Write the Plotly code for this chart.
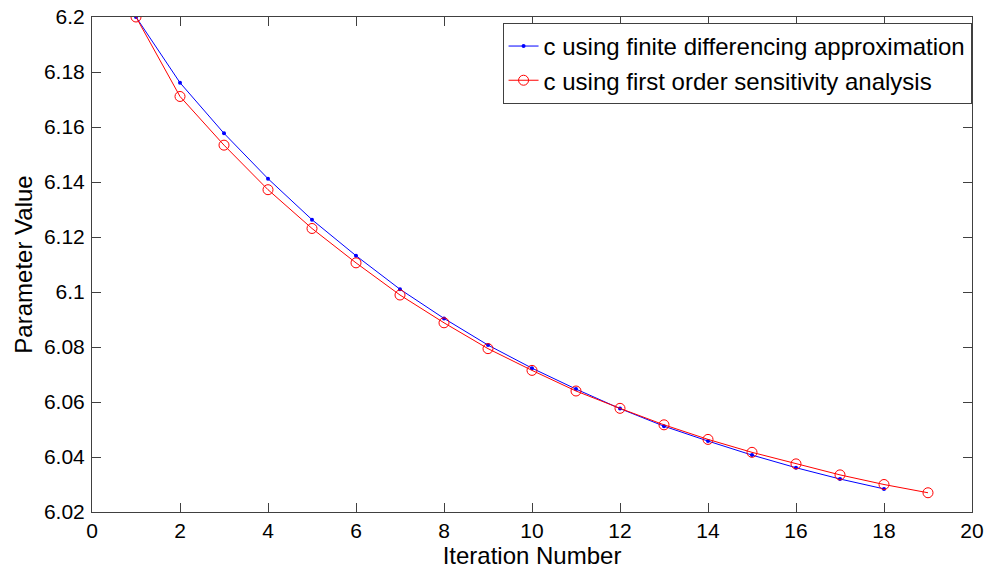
import plotly.graph_objects as go

iters_fd = list(range(1, 19))
c_fd = [6.2, 6.1761, 6.1577, 6.1412, 6.1263, 6.1132, 6.1010, 6.0904, 6.0807, 6.0723,
        6.0647, 6.0576, 6.0512, 6.0458, 6.0407, 6.0361, 6.0320, 6.0284]
iters_sa = list(range(1, 20))
c_sa = [6.2, 6.1711, 6.1534, 6.1372, 6.1231, 6.1106, 6.0989, 6.0888, 6.0794, 6.0715,
        6.0640, 6.0577, 6.0517, 6.0464, 6.0417, 6.0375, 6.0335, 6.0300, 6.0270]

xticks = list(range(0, 21, 2))
yticks = [6.02, 6.04, 6.06, 6.08, 6.1, 6.12, 6.14, 6.16, 6.18, 6.2]
yticktext = ["6.02", "6.04", "6.06", "6.08", "6.1", "6.12", "6.14", "6.16", "6.18", "6.2"]

FONT = "Liberation Sans, Arial, sans-serif"

fig = go.Figure()
fig.add_trace(go.Scatter(
    x=iters_fd, y=c_fd, mode="lines+markers",
    name="c using finite differencing approximation",
    line=dict(color="#0000ff", width=1),
    marker=dict(color="#0000ff", size=4, symbol="circle"),
))
fig.add_trace(go.Scatter(
    x=iters_sa, y=c_sa, mode="lines+markers",
    name="c using first order sensitivity analysis",
    line=dict(color="#ff0000", width=1),
    marker=dict(color="#ff0000", size=10, symbol="circle-open", line=dict(width=1)),
))

axis_common = dict(
    showgrid=False, zeroline=False, showline=True, mirror="ticks",
    linecolor="#404040", linewidth=1, ticks="inside", ticklen=9,
    tickcolor="#404040", tickfont=dict(family=FONT, size=21, color="black"),
    automargin=False,
)

fig.update_layout(
    width=990, height=569,
    margin=dict(l=92, r=18, t=17, b=57),
    paper_bgcolor="white", plot_bgcolor="white",
    font=dict(family=FONT, color="black"),
    xaxis=dict(range=[0, 20], tickvals=xticks, **axis_common,
               title=dict(text="Iteration Number", font=dict(family=FONT, size=24), standoff=0)),
    yaxis=dict(range=[6.02, 6.2], tickvals=yticks, ticktext=yticktext, ticklabelstandoff=2,
               **axis_common,
               title=dict(text="Parameter Value", font=dict(family=FONT, size=24), standoff=4)),
    legend=dict(x=0.9995, y=0.988, xanchor="right", yanchor="top",
                bgcolor="white", bordercolor="#404040", borderwidth=1,
                font=dict(family=FONT, size=24, color="black"),
                tracegroupgap=0, itemwidth=30),
    showlegend=True,
)

fig.write_html("out.html")
